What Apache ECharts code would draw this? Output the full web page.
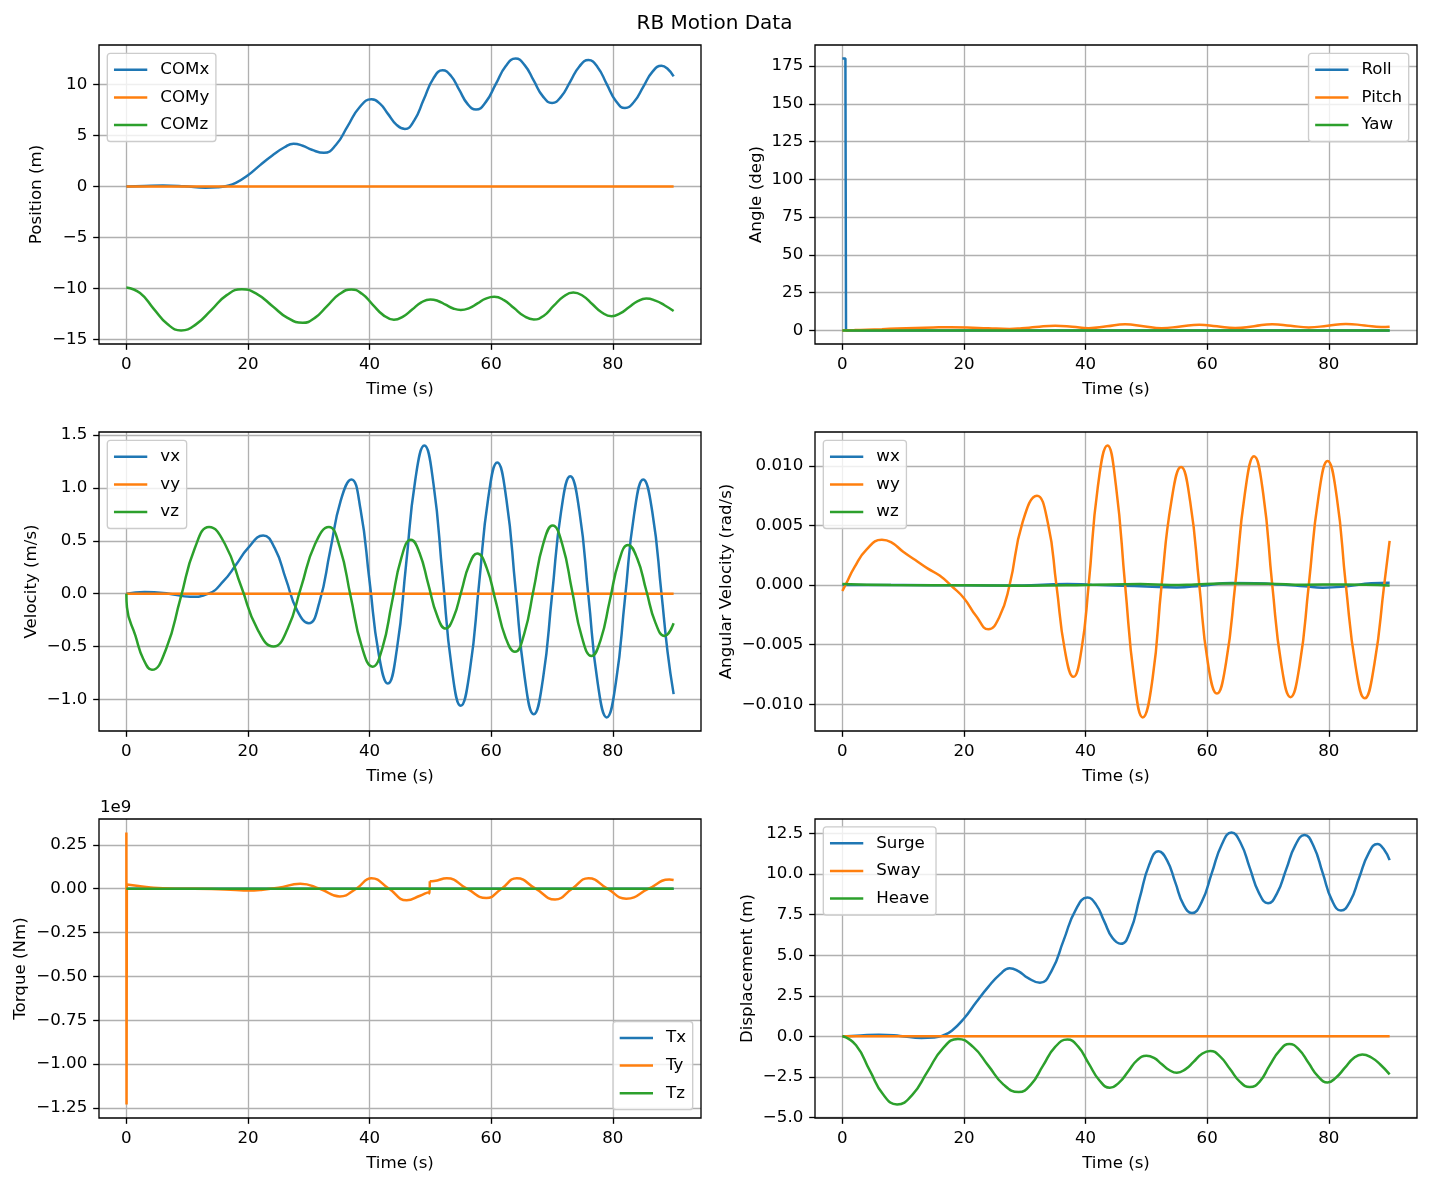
<!DOCTYPE html>
<html><head><meta charset="utf-8">
<script src="https://cdn.jsdelivr.net/npm/echarts@6/dist/echarts.min.js"></script>
<style>html,body{margin:0;padding:0;background:#fff}#c{width:1429px;height:1184px}</style>
</head><body><div id="c"></div>
<script>
// ---------- data (time s, value) ----------
const timeTicks = [0, 20, 40, 60, 80];

const COMx = [[0,0],[3,0.06],[6,0.1],[9.5,0.03],[13,-0.12],[15,-0.08],[16.5,0.05],[18,0.35],[20,1.1],[22,2.1],[24,3.05],[26,3.85],[27.5,4.2],[29,4.0],[30.5,3.6],[32.5,3.3],[34.45,4.07],[36.4,5.93],[38.35,7.78],[40.3,8.55],[41.7,8.13],[43.05,7.1],[44.4,6.07],[45.8,5.65],[47.35,6.49],[48.9,8.53],[50.45,10.56],[52,11.4],[53.4,10.84],[54.75,9.48],[56.1,8.11],[57.5,7.55],[59.1,8.28],[60.75,10.05],[62.4,11.82],[64,12.55],[65.5,11.91],[67,10.38],[68.5,8.84],[70,8.2],[71.5,8.82],[73,10.3],[74.5,11.78],[76,12.4],[77.5,11.71],[79,10.05],[80.5,8.39],[82,7.7],[83.5,8.31],[85,9.78],[86.5,11.24],[88,11.85],[89,11.55],[90,10.8]];
const COMy = [[0,0],[90,0]];
const COMz = [[0,-9.9],[2.25,-10.45],[4.5,-12.0],[6.75,-13.5],[9,-14.12],[11.5,-13.5],[14,-12.1],[16.5,-10.66],[19,-10.07],[21.5,-10.56],[24,-11.72],[26.5,-12.89],[29,-13.37],[31,-12.89],[33,-11.73],[35,-10.58],[37,-10.1],[38.75,-10.53],[40.5,-11.58],[42.25,-12.62],[44,-13.07],[45.5,-12.76],[47,-12.07],[48.5,-11.37],[50,-11.08],[51.25,-11.23],[52.5,-11.6],[53.75,-11.97],[55,-12.12],[56.4,-11.93],[57.75,-11.47],[59.1,-11.0],[60.5,-10.82],[62.1,-11.15],[63.75,-11.93],[65.4,-12.71],[67,-13.04],[68.6,-12.7],[70.25,-11.72],[71.9,-10.79],[73.5,-10.4],[75.1,-10.74],[76.65,-11.55],[78.2,-12.36],[79.8,-12.72],[81.2,-12.45],[82.65,-11.85],[84.1,-11.25],[85.5,-11.0],[87,-11.2],[88.5,-11.65],[90,-12.22]];

const Roll = [[0,180],[0.5,180],[0.6,0],[90,0]];
const Pitch = [[0,0],[2,0.2],[4,0.45],[6.5,0.8],[9,1.25],[12,1.65],[15,1.95],[17.8,2.1],[20.5,1.95],[24,1.4],[27.5,1.0],[29.5,1.4],[31.8,2.2],[35,3.1],[37.8,2.5],[40.5,1.5],[43.5,2.7],[46.5,4.0],[49.5,2.8],[52.5,1.5],[55.6,2.6],[58.7,3.8],[61.6,2.7],[64.6,1.6],[67.7,2.8],[70.7,4.1],[73.7,3.1],[76.7,2.0],[79.8,3.1],[82.8,4.3],[85.9,3.3],[88.6,2.2],[90,2.4]];
const Yaw = [[0,0],[90,0]];

const vx = [[0,0],[3,0.015],[7,0.0],[10.5,-0.03],[13.5,0],[16,0.12],[18,0.27],[20,0.43],[22.5,0.55],[24.4,0.43],[26.25,0.135],[28.1,-0.16],[30,-0.28],[31.75,-0.08],[33.5,0.4],[35.25,0.88],[37,1.08],[38.5,0.8],[40,0.115],[41.5,-0.57],[43,-0.85],[44.5,-0.52],[46,0.275],[47.5,1.07],[49,1.40],[50.5,1.04],[52,0.17],[53.5,-0.7],[55,-1.06],[56.5,-0.72],[58,0.09],[59.5,0.9],[61,1.24],[62.5,0.89],[64,0.05],[65.5,-0.79],[67,-1.14],[68.5,-0.81],[70,-0.015],[71.5,0.78],[73,1.11],[74.5,0.78],[76,-0.03],[77.5,-0.84],[79,-1.17],[80.5,-0.84],[82,-0.045],[83.5,0.75],[85,1.08],[86.5,0.77],[88,0.0],[89,-0.55],[90,-0.95]];
const vy = [[0,0],[90,0]];
const vz = [[0,0],[0.1,-0.13],[1.5,-0.4],[2.8,-0.62],[4.2,-0.72],[6.55,-0.52],[8.9,-0.045],[11.25,0.43],[13.6,0.63],[16.25,0.465],[18.9,0.065],[21.55,-0.335],[24.2,-0.5],[26.5,-0.335],[28.75,0.065],[31.0,0.465],[33.3,0.63],[35.1,0.437],[36.9,-0.03],[38.7,-0.497],[40.5,-0.69],[42.1,-0.514],[43.65,-0.09],[45.2,0.334],[46.8,0.51],[48.2,0.387],[49.65,0.09],[51.1,-0.207],[52.5,-0.33],[53.8,-0.226],[55.1,0.025],[56.4,0.276],[57.7,0.38],[59.25,0.244],[60.8,-0.085],[62.35,-0.414],[63.9,-0.55],[65.45,-0.375],[67,0.0475],[68.55,0.47],[70.1,0.645],[71.7,0.464],[73.3,0.0275],[74.9,-0.409],[76.5,-0.59],[78,-0.436],[79.5,-0.065],[81,0.306],[82.5,0.46],[84,0.334],[85.5,0.03],[87,-0.274],[88.5,-0.4],[90,-0.28]];

const wx = [[0,0],[10,0],[20,-0.00002],[28,-0.00004],[33,0.00003],[37,0.0001],[41,0.00002],[46,-0.00005],[50,-0.00012],[55,-0.0002],[59,-0.00005],[64,0.00018],[68,0.00015],[72,0.00005],[76,-0.0001],[79,-0.00022],[83,-0.0001],[87,0.00015],[90,0.0002]];
const wy = [[0,-0.0005],[0.5,0],[2,0.0015],[4,0.003],[6.5,0.0038],[8,0.0036],[10,0.0028],[12,0.0021],[14,0.0014],[16,0.0008],[18,-0.0001],[20,-0.0011],[22,-0.0026],[24,-0.0037],[25.8,-0.0027],[27.5,0],[29.6,0.0052],[32,0.0075],[33.8,0.0052],[35.2,0],[36.6,-0.0055],[38,-0.0077],[39.3,-0.0055],[40.5,0],[42,0.0082],[43.6,0.0117],[45,0.0083],[46.5,0],[48,-0.0079],[49.4,-0.0111],[51,-0.0079],[52.5,0],[54.1,0.007],[55.7,0.0099],[57.2,0.007],[58.7,0],[60.1,-0.0065],[61.6,-0.0091],[63.1,-0.0065],[64.6,0],[66.2,0.0077],[67.7,0.0108],[69.2,0.0077],[70.7,0],[72.2,-0.0067],[73.7,-0.0094],[75.2,-0.0067],[76.7,0],[78.3,0.0074],[79.8,0.0104],[81.3,0.0074],[82.8,0],[84.4,-0.0068],[85.9,-0.0095],[87.5,-0.0066],[89.1,0],[90,0.0037]];
const wz = [[0,0.00008],[8,0],[20,-0.00002],[30,-0.00005],[40,0],[49,0.00008],[54,0],[58,0.00005],[62,0.00013],[70,0.00012],[76,0.00003],[82,0.00005],[86,0.00003],[90,-0.00003]];

const Tx = [[0,0],[90,0]];
const TySpike = [[0,3.2e8],[0.03,-1.23e9],[0.08,2.4e7]];
const TyA = [[0.08,2.4e7],[2,1.5e7],[4,7e6],[6,2e6],[9,0],[14,-2e6],[18,-8e6],[20,-1e7],[22,-7e6],[25,5e6],[28.6,2.8e7],[31.8,0],[35.1,-4.4e7],[37.8,0],[40.3,6e7],[43.2,0],[46.1,-6.6e7],[48.3,-4e7],[49.8,-2e7],[49.86,-2.8e7],[49.9,4.3e7]];
const TyB = [[49.9,4.3e7],[50.6,4.4e7],[52.7,6e7],[56,0],[59.2,-5.3e7],[61.7,0],[64.2,6e7],[67.3,0],[70.5,-6.1e7],[73.3,0],[76,6e7],[79.1,0],[82.2,-5.7e7],[85.9,0],[89.3,5.2e7],[90,5e7]];
const Tz = [[0,0],[90,0]];

const Surge = [[0,0],[3,0.06],[6,0.1],[9.5,0.03],[13,-0.1],[15,-0.07],[16.5,0.05],[18,0.35],[20,1.1],[22,2.1],[24,3.05],[26,3.85],[27.5,4.2],[29,4.0],[30.5,3.6],[32.5,3.3],[34.45,4.07],[36.4,5.93],[38.35,7.78],[40.3,8.55],[41.7,8.13],[43.05,7.1],[44.4,6.07],[45.8,5.7],[47.35,6.49],[48.9,8.53],[50.45,10.56],[52,11.4],[53.4,10.84],[54.75,9.48],[56.1,8.11],[57.5,7.6],[59.1,8.28],[60.75,10.05],[62.4,11.82],[64,12.55],[65.5,11.91],[67,10.38],[68.5,8.84],[70,8.2],[71.5,8.82],[73,10.3],[74.5,11.78],[76,12.4],[77.5,11.71],[79,10.05],[80.5,8.39],[82,7.75],[83.5,8.31],[85,9.78],[86.5,11.24],[88,11.85],[89,11.55],[90,10.85]];
const Sway = [[0,0],[90,0]];
const Heave = [[0,0.02],[2.25,-0.55],[4.5,-2.1],[6.75,-3.6],[9,-4.19],[11.5,-3.6],[14,-2.17],[16.5,-0.75],[19,-0.16],[21.5,-0.65],[24,-1.8],[26.5,-2.97],[29,-3.43],[31,-2.97],[33,-1.8],[35,-0.65],[37,-0.2],[38.75,-0.62],[40.5,-1.66],[42.25,-2.7],[44,-3.16],[45.5,-2.85],[47,-2.16],[48.5,-1.46],[50,-1.2],[51.25,-1.33],[52.5,-1.7],[53.75,-2.07],[55,-2.24],[56.4,-2.03],[57.75,-1.57],[59.1,-1.09],[60.5,-0.9],[62.1,-1.23],[63.75,-2.01],[65.4,-2.8],[67,-3.12],[68.6,-2.8],[70.25,-1.8],[71.9,-0.88],[73.5,-0.47],[75.1,-0.82],[76.65,-1.63],[78.2,-2.45],[79.8,-2.84],[81.2,-2.53],[82.65,-1.93],[84.1,-1.33],[85.5,-1.11],[87,-1.3],[88.5,-1.75],[90,-2.34]];

// ---------- layout / style ----------
const FONT = 'DejaVu Sans';
const FS = 16.67;
const COLORS = ['#1f77b4', '#ff7f0e', '#2ca02c'];
const COLS = [99, 815], TOPS = [45, 432, 819], W = 602, H = 299;

const panels = [
  { col:0, row:0, ylabel:'Position (m)', step:5, dec:0, scale:1, gap:53.4,
    series:[['COMx',COMx,0,true],['COMy',COMy,1,true],['COMz',COMz,2,true]],
    legend:{names:['COMx','COMy','COMz'], pos:{left:107.3, top:53.3}} },
  { col:1, row:0, ylabel:'Angle (deg)', step:25, dec:0, scale:1, gap:50.2,
    series:[['Roll',Roll,0,false],['Pitch',Pitch,1,true],['Yaw',Yaw,2,false]],
    legend:{names:['Roll','Pitch','Yaw'], pos:{right:20.3, top:53.3}} },
  { col:0, row:1, ylabel:'Velocity (m/s)', step:0.5, dec:1, scale:1, gap:58.9,
    series:[['vx',vx,0,true],['vy',vy,1,true],['vz',vz,2,true]],
    legend:{names:['vx','vy','vz'], pos:{left:107.3, top:440.3}} },
  { col:1, row:1, ylabel:'Angular Velocity (rad/s)', step:0.005, dec:3, scale:1, gap:80.1,
    series:[['wx',wx,0,true],['wy',wy,1,true],['wz',wz,2,true]],
    legend:{names:['wx','wy','wz'], pos:{left:823.3, top:440.3}} },
  { col:0, row:2, ylabel:'Torque (Nm)', step:0.25e9, dec:2, scale:1e9, gap:69.4,
    series:[['Tx',Tx,0,false],['Ty',TySpike,1,false],['Ty',TyA,1,true],['Ty',TyB,1,true],['Tz',Tz,2,false]],
    legend:{names:['Tx','Ty','Tz'], pos:{right:736.3, bottom:74.3}} },
  { col:1, row:2, ylabel:'Displacement (m)', step:2.5, dec:1, scale:1, gap:58.9,
    series:[['Surge',Surge,0,true],['Sway',Sway,1,true],['Heave',Heave,2,true]],
    legend:{names:['Surge','Sway','Heave'], pos:{left:823.3, top:826.8}} }
];

const txt = { color:'#000', fontSize:FS, fontFamily:FONT };
const grids = [], xAxes = [], yAxes = [], legends = [], series = [];

panels.forEach((p, i) => {
  grids.push({ left:COLS[p.col], top:TOPS[p.row], width:W, height:H, show:true,
               borderColor:'#000', borderWidth:1.33, backgroundColor:'rgba(0,0,0,0)', z:10 });
  xAxes.push({ type:'value', gridIndex:i, min:-4.5, max:94.5, minInterval:20, maxInterval:20,
    axisLine:{show:false, onZero:false},
    axisTick:{show:true, length:5.83, customValues:timeTicks, lineStyle:{color:'#000', width:1.33}},
    axisLabel:Object.assign({ customValues:timeTicks, margin:11.7,
      formatter:v => String(Math.round(v)) }, txt),
    splitLine:{show:true, lineStyle:{color:'#b0b0b0', width:1.33}},
    name:'Time (s)', nameLocation:'middle', nameGap:37, nameTextStyle:txt });
  let lo = Infinity, hi = -Infinity;
  p.series.forEach(s => s[1].forEach(d => { lo = Math.min(lo, d[1]); hi = Math.max(hi, d[1]); }));
  const pad = 0.05 * (hi - lo);
  const ymin = lo - pad, ymax = hi + pad;
  const ticks = [];
  for (let k = Math.ceil(ymin / p.step - 1e-9); k * p.step <= ymax + 1e-12; k++) ticks.push(k * p.step);
  const fmt = v => { let s = (v / p.scale).toFixed(p.dec); if (parseFloat(s) === 0) s = (0).toFixed(p.dec); return s.replace('-', '\u2212'); };
  yAxes.push({ type:'value', gridIndex:i, min:ymin, max:ymax, minInterval:p.step, maxInterval:p.step,
    axisLine:{show:false, onZero:false},
    axisTick:{show:true, length:5.83, customValues:ticks, lineStyle:{color:'#000', width:1.33}},
    axisLabel:Object.assign({ customValues:ticks, margin:11.7, formatter:fmt }, txt),
    splitLine:{show:true, lineStyle:{color:'#b0b0b0', width:1.33}},
    name:p.ylabel, nameLocation:'middle', nameGap:p.gap, nameTextStyle:txt });
  legends.push(Object.assign({
    data:p.legend.names, orient:'vertical', icon:'rect', itemWidth:33.3, itemHeight:2.5, itemGap:7.7,
    padding:[6.4, 6.67, 6.4, 6.67], backgroundColor:'rgba(255,255,255,0.8)', borderColor:'#cccccc',
    borderWidth:1.33, borderRadius:3, selectedMode:false, itemStyle:{borderWidth:0},
    textStyle:{ color:'#000', fontSize:FS, fontFamily:FONT, lineHeight:20, padding:[0,0,0,8] }, z:20
  }, p.legend.pos));
  p.series.forEach(s => {
    series.push({ type:'line', name:s[0], data:s[1], xAxisIndex:i, yAxisIndex:i,
      color:COLORS[s[2]], smooth:s[3], symbol:'none', showSymbol:false,
      lineStyle:{color:COLORS[s[2]], width:2.5}, animation:false, z:2 + s[2] });
  });
});

const chart = echarts.init(document.getElementById('c'), null, { renderer:'canvas' });
chart.setOption({
  backgroundColor:'#fff', animation:false,
  title:{ text:'RB Motion Data', left:'center', top:9, textStyle:{ color:'#000', fontSize:20, fontWeight:'normal', fontFamily:FONT } },
  grid:grids, xAxis:xAxes, yAxis:yAxes, legend:legends, series:series,
  graphic:[{ type:'text', left:100, top:799, style:{ text:'1e9', fill:'#000', fontSize:FS, fontFamily:FONT } }]
});
</script>
</body></html>
